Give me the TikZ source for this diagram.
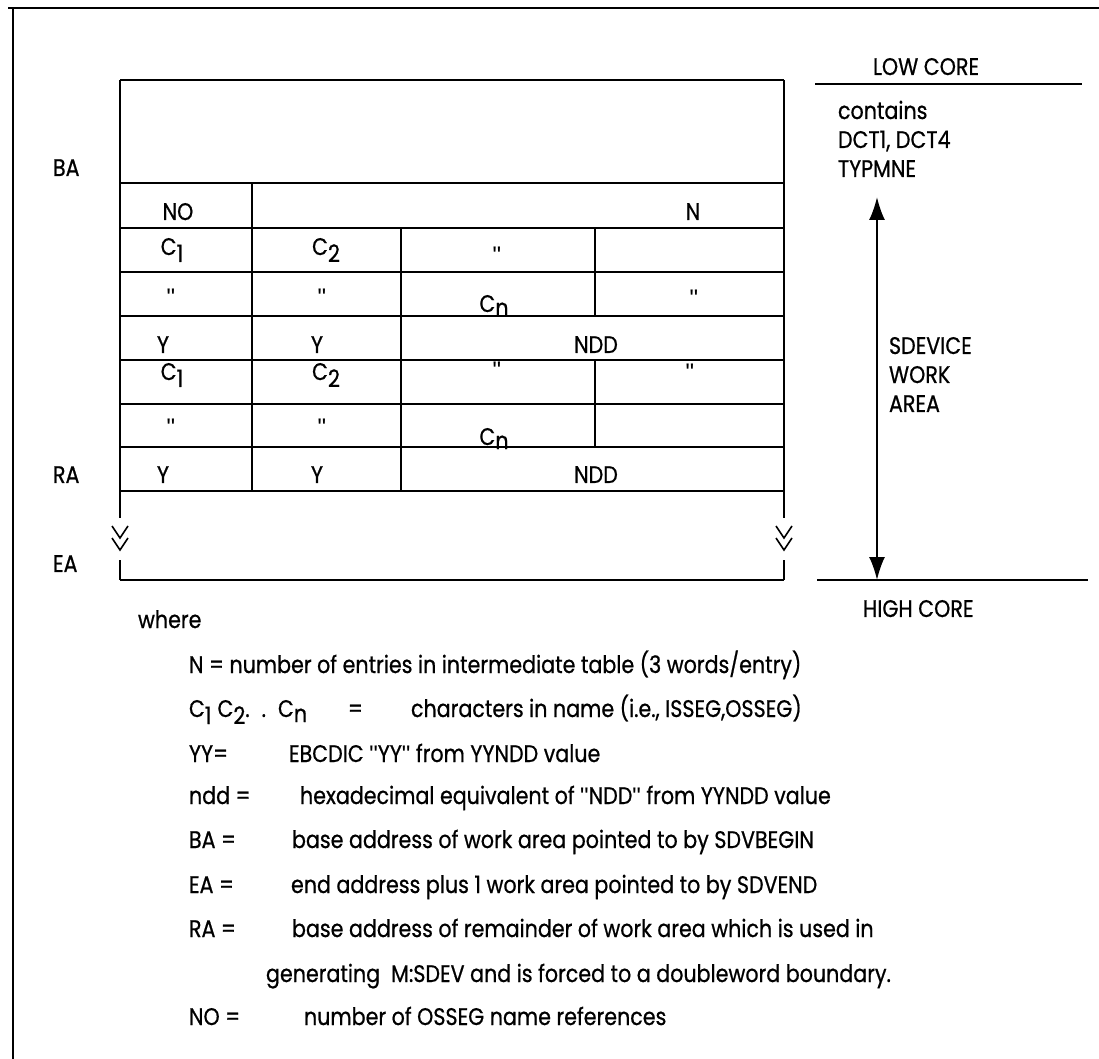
\documentclass[tikz,border=0pt]{standalone}
\usepackage{fontspec}
\setmainfont{Poppins}[FakeStretch=0.86, FakeBold=0.7]
\newfontfamily\quotefont{Liberation Sans}
\usetikzlibrary{arrows.meta,positioning}

\newcommand{\lowsub}[2][3.5pt]{\raisebox{-#1}{#2}}
\newcommand{\ditto}{{\quotefont"}}

\begin{document}
\begin{tikzpicture}[x=0.5pt, y=-0.5pt, line width=1pt,
  every node/.style={font=\fontsize{12}{14.5}\selectfont, inner sep=0pt},
  lbl/.style={anchor=base west},
  cell/.style={anchor=base},
  corearrow/.style={{Latex[length=11.5pt,width=8pt]}-{Latex[length=11.5pt,width=8pt]}}]
  \useasboundingbox (0,0) rectangle (1099,1059);
  % page frame
  \draw (8,8) -- (1099,8);
  \draw (13,8) -- (13,1059);
  % work area
  \draw (120,80) -- (784,80);
  \draw (120,183) -- (784,183);
  \draw (120,228) -- (784,228);
  \draw (120,272) -- (784,272);
  \draw (120,316) -- (784,316);
  \draw (120,360) -- (784,360);
  \draw (120,404) -- (784,404);
  \draw (120,447) -- (784,447);
  \draw (120,491) -- (784,491);
  \draw (120,580) -- (784,580);
  \draw (120,80) -- (120,518);
  \draw (784,80) -- (784,518);
  \draw (120,560) -- (120,580);
  \draw (784,560) -- (784,580);
  \draw (252,183) -- (252,491);
  \draw (401,228) -- (401,491);
  \draw (595,228) -- (595,316);
  \draw (595,360) -- (595,447);
  % break marks
  \draw[line width=0.8pt] (112,526) -- (120,538) -- (128,526) (112,538) -- (120,550) -- (128,538);
  \draw[line width=0.8pt] (776,526) -- (784,538) -- (792,526) (776,538) -- (784,550) -- (792,538);
  % addresses
  \node[lbl] (ba) at (52,176) {BA};
  \node[lbl] (ra) at (52,483) {RA};
  \node[lbl] (ea) at (52,572) {EA};
  % entries
  \node[cell] (no) at (178,220) {NO};
  \node[cell] (n) at (693,220) {N};
  \node[cell] (c1a) at (172,255) {C\lowsub{1}};
  \node[cell] (c2a) at (326,255) {C\lowsub{2}};
  \node[cell] (qa) at (497,264) {\ditto};
  \node[cell] (qb) at (171,306) {\ditto};
  \node[cell] (qc) at (322,306) {\ditto};
  \node[cell] (cna) at (494,312) {C\lowsub[2pt]{n}};
  \node[cell] (qd) at (694,307) {\ditto};
  \node[cell] (ya) at (163,353) {Y};
  \node[cell] (yb) at (317,353) {Y};
  \node[cell] (ndda) at (596,353) {NDD};
  \node[cell] (c1b) at (172,380) {C\lowsub{1}};
  \node[cell] (c2b) at (326,380) {C\lowsub{2}};
  \node[cell] (qe) at (497,379) {\ditto};
  \node[cell] (qf) at (690,381) {\ditto};
  \node[cell] (qg) at (171,436) {\ditto};
  \node[cell] (qh) at (322,436) {\ditto};
  \node[cell] (cnb) at (494,445) {C\lowsub[2pt]{n}};
  \node[cell] (yc) at (163,483) {Y};
  \node[cell] (yd) at (317,483) {Y};
  \node[cell] (nddb) at (596,483) {NDD};
  % core
  \node[lbl] (low) at (872,75) {LOW\ CORE};
  \draw (815,84) -- (1082,84);
  \node[lbl, align=left] (dct) at (837,177) {contains\\DCT1, DCT4\\TYPMNE};
  \node[lbl, align=left] (sdev) at (888,412) {SDEVICE\\WORK\\AREA};
  \draw (817,580) -- (1088,580);
  \node[lbl] (high) at (862,617) {HIGH\ CORE};
  \coordinate (lowend) at (877,197);
  \coordinate (highend) at (877,580);
  \draw[corearrow] (lowend) -- (highend);
  % legend
  \node[lbl] (where) at (137,628) {where};
  \node[lbl] (kn) at (188,673) {N = number of entries in intermediate table (3 words/entry)};
  \node[lbl] (kc) at (188,717) {C\lowsub{1}\hspace{3pt}C\lowsub{2}.\hspace{6pt}.\hspace{6pt}C\lowsub[2.5pt]{n}};
  \node[lbl] (eqc) at (347,717) {=};
  \node[lbl] (dc) at (410,717) {characters in name (i.e., ISSEG,OSSEG)};
  \node[lbl] (kyy) at (188,762) {YY=};
  \node[lbl] (dyy) at (288,762) {EBCDIC \ditto YY\ditto\ from YYNDD value};
  \node[lbl] (kndd) at (188,804) {ndd =};
  \node[lbl] (dndd) at (299,804) {hexadecimal equivalent of \ditto NDD\ditto\ from YYNDD value};
  \node[lbl] (kba) at (188,848) {BA =};
  \node[lbl] (dba) at (291,848) {base address of work area pointed to by SDVBEGIN};
  \node[lbl] (kea) at (188,893) {EA =};
  \node[lbl] (dea) at (290,893) {end address plus 1 work area pointed to by SDVEND};
  \node[lbl] (kra) at (188,937) {RA =};
  \node[lbl] (dra) at (291,937) {base address of remainder of work area which is used in};
  \node[lbl] (dra2) at (265,982) {generating\ \ M:SDEV and is forced to a doubleword boundary.};
  \node[lbl] (kno) at (188,1025) {NO =};
  \node[lbl] (dno) at (303,1025) {number of OSSEG name references};
\end{tikzpicture}
\end{document}
